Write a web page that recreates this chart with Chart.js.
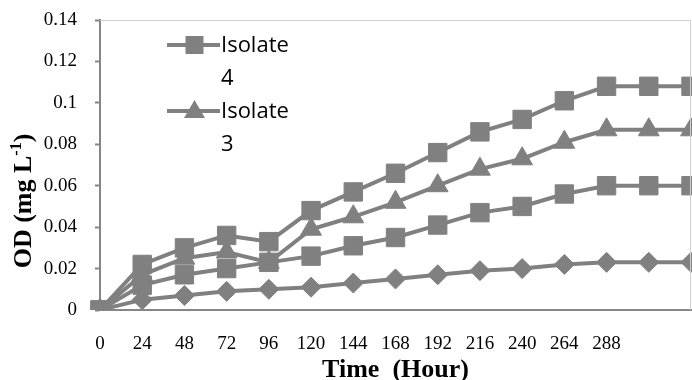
<!DOCTYPE html>
<html>
<head>
<meta charset="utf-8">
<script src="https://cdn.jsdelivr.net/npm/chart.js@4.4.1/dist/chart.umd.min.js"></script>
<style>
  html, body { margin: 0; padding: 0; background: #fff; }
  #wrap { width: 692px; height: 380px; }
</style>
</head>
<body>
<div id="wrap"><canvas id="odChart" width="692" height="380"></canvas></div>
<script>
// ===== OD growth curves of isolates =====

// Time points (hours); the last two have no printed label
const hours = ["0", "24", "48", "72", "96", "120", "144", "168", "192", "216", "240", "264", "288", "", ""];

// OD readings per isolate
const isolate4 = [0, 0.022, 0.030, 0.036, 0.033, 0.048, 0.057, 0.066, 0.076, 0.086, 0.092, 0.101, 0.108, 0.108, 0.108];
const isolate3 = [0, 0.017, 0.025, 0.028, 0.023, 0.039, 0.045, 0.052, 0.060, 0.068, 0.073, 0.081, 0.087, 0.087, 0.087];
const isolate2 = [0, 0.012, 0.017, 0.020, 0.023, 0.026, 0.031, 0.035, 0.041, 0.047, 0.050, 0.056, 0.060, 0.060, 0.060];
const isolate1 = [0, 0.005, 0.007, 0.009, 0.010, 0.011, 0.013, 0.015, 0.017, 0.019, 0.020, 0.022, 0.023, 0.023, 0.023];

// Only these entries are visible in the legend
const legendNames = ["Isolate 4", "Isolate 3"];

const grey = "#808080";
const axisGrey = "#868686";

function series(label, data, style, radius) {
    return {
        label: label,
        data: data,
        borderColor: grey,
        backgroundColor: grey,
        borderWidth: 4,
        tension: 0,
        pointStyle: style,
        pointRadius: radius,
        pointBorderWidth: 1,
        pointBorderColor: grey,
        pointBackgroundColor: grey
    };
}

// Plot frame (light top/right border), legend and axis titles
const decorations = {
    id: "decorations",
    afterDraw(chart) {
        const ctx = chart.ctx;
        const area = chart.chartArea;
        ctx.save();

        // top + right frame lines
        ctx.strokeStyle = "#d0d0d0";
        ctx.lineWidth = 1;
        ctx.beginPath();
        ctx.moveTo(area.left, area.top + 0.5);
        ctx.lineTo(area.right - 0.5, area.top + 0.5);
        ctx.lineTo(area.right - 0.5, area.bottom);
        ctx.stroke();

        // legend inside the plot
        const lx = 167, lw = 53, top = 45, rowStep = 66, lineStep = 33;
        ctx.font = "22px 'Open Sans'";
        ctx.textBaseline = "middle";
        ctx.textAlign = "left";
        legendNames.forEach((name, i) => {
            const y = top + i * rowStep;
            ctx.strokeStyle = grey;
            ctx.fillStyle = grey;
            ctx.lineWidth = 4;
            ctx.beginPath();
            ctx.moveTo(lx, y);
            ctx.lineTo(lx + lw, y);
            ctx.stroke();
            const cx = lx + lw / 2 + 1;
            ctx.beginPath();
            if (i === 0) {
                ctx.rect(cx - 9, y - 9, 18, 18);
            } else {
                ctx.moveTo(cx, y - 11);
                ctx.lineTo(cx + 10.5, y + 7);
                ctx.lineTo(cx - 10.5, y + 7);
                ctx.closePath();
            }
            ctx.fill();
            const parts = name.split(" ");
            ctx.fillStyle = "#000";
            ctx.fillText(parts[0], lx + lw + 1, y + 1);
            ctx.fillText(parts[1], lx + lw + 1, y + 1 + lineStep);
        });

        // x axis title
        ctx.fillStyle = "#000";
        ctx.font = "bold 26px 'Liberation Serif'";
        ctx.textAlign = "center";
        ctx.textBaseline = "alphabetic";
        ctx.fillText("Time  (Hour)", (area.left + area.right) / 2, 377);

        // y axis title with superscript, rotated
        const big = "bold 26px 'Liberation Serif'";
        const small = "bold 16px 'Liberation Serif'";
        const p1 = "OD (mg L", p2 = "-1", p3 = ")";
        ctx.font = big;
        const w1 = ctx.measureText(p1).width;
        const w3 = ctx.measureText(p3).width;
        ctx.font = small;
        const w2 = ctx.measureText(p2).width;
        const total = w1 + w2 + w3;
        ctx.translate(31, 201);
        ctx.rotate(-Math.PI / 2);
        ctx.textAlign = "left";
        let x = -total / 2;
        ctx.font = big;
        ctx.fillText(p1, x, 0);
        x += w1;
        ctx.font = small;
        ctx.fillText(p2, x, -10);
        x += w2;
        ctx.font = big;
        ctx.fillText(p3, x, 0);

        ctx.restore();
    }
};

const ctx = document.getElementById("odChart").getContext("2d");
const chart = new Chart(ctx, {
    type: "line",
    data: {
        labels: hours,
        datasets: [
            series("Isolate 4", isolate4, "rect", 13),
            series("Isolate 3", isolate3, "triangle", 12),
            series("Isolate 2", isolate2, "rect", 13),
            series("Isolate 1", isolate1, "rectRot", 10)
        ]
    },
    options: {
        responsive: false,
        animation: false,
        devicePixelRatio: 1,
        layout: { autoPadding: false, padding: { top: 20, right: 1, left: 0, bottom: 0 } },
        plugins: {
            legend: { display: false },
            tooltip: { enabled: false }
        },
        scales: {
            x: {
                grid: { display: false },
                border: { color: axisGrey, width: 2 },
                ticks: {
                    color: "#000",
                    font: { family: "'Liberation Serif'", size: 19 },
                    padding: 15,
                    autoSkip: false,
                    maxRotation: 0
                },
                afterFit(scale) {
                    scale.height = 70;
                    scale.paddingLeft = 0;
                    scale.paddingRight = 0;
                }
            },
            y: {
                min: 0,
                max: 0.14,
                grid: {
                    drawOnChartArea: false,
                    drawTicks: true,
                    tickLength: 5,
                    tickColor: axisGrey,
                    tickWidth: 2
                },
                border: { color: axisGrey, width: 2 },
                ticks: {
                    stepSize: 0.02,
                    color: "#000",
                    font: { family: "'Liberation Serif'", size: 19 },
                    padding: 18,
                    callback: v => String(+v.toFixed(2))
                },
                afterFit(scale) {
                    scale.width = 100;
                    scale.paddingTop = 0;
                    scale.paddingBottom = 0;
                }
            }
        }
    },
    plugins: [decorations]
});
</script>
</body>
</html>
